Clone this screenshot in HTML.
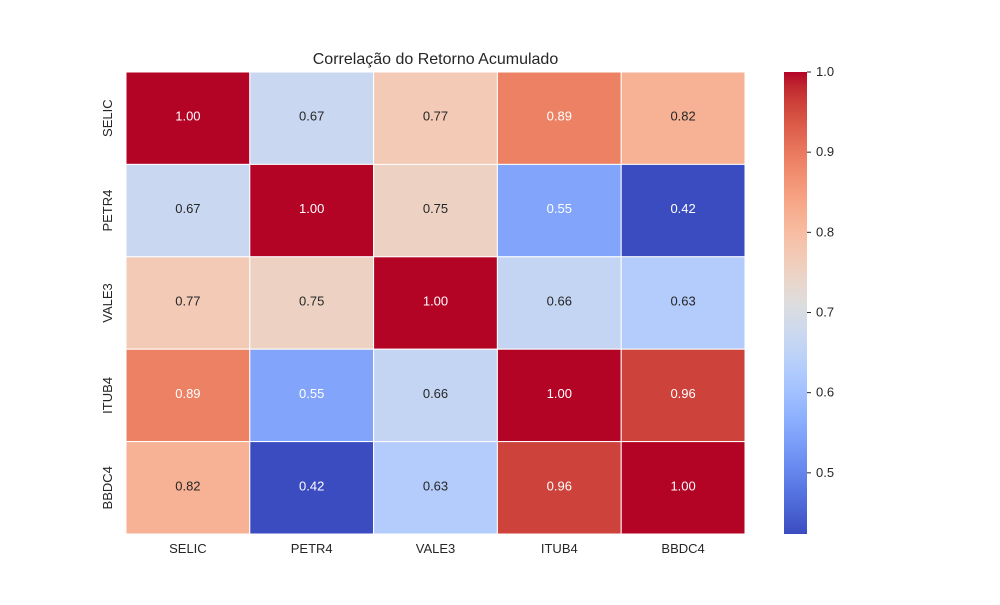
<!DOCTYPE html>
<html><head><meta charset="utf-8"><style>
body{margin:0;background:#fff;}
svg text{font-family:"Liberation Sans",Arial,sans-serif;}
</style></head><body>
<svg id="chart" width="1000" height="600" xmlns="http://www.w3.org/2000/svg">
<defs><linearGradient id="cbgrad" x1="0" y1="1" x2="0" y2="0"></linearGradient></defs>
<rect width="1000" height="600" fill="#fff"/>
<text x="435.5" y="64" font-size="16" text-anchor="middle" fill="#262626">Correlação do Retorno Acumulado</text>
<g id="cells"></g><g id="xt"></g><g id="yt"></g>
<rect x="784" y="72" width="23" height="462" fill="url(#cbgrad)"/>
<g id="cbt"></g>
</svg>
<script>
const labels = ["SELIC","PETR4","VALE3","ITUB4","BBDC4"];
const row0 = [1.00,0.67,0.77,0.89,0.82];
const row1 = [0.67,1.00,0.75,0.55,0.42];
const row2 = [0.77,0.75,1.00,0.66,0.63];
const row3 = [0.89,0.55,0.66,1.00,0.96];
const row4 = [0.82,0.42,0.63,0.96,1.00];
const cbTicks = [0.5,0.6,0.7,0.8,0.9,1.0];
const vmin = 0.4237, vmax = 1.0;
const matrix=[row0,row1,row2,row3,row4];
const CW=[[59,76,192],[68,90,204],[77,104,215],[87,117,225],[98,130,234],[108,142,241],[119,154,247],[130,165,251],[141,176,254],[152,185,255],[163,194,255],[174,201,253],[184,208,249],[194,213,244],[204,217,238],[213,219,230],[221,221,221],[229,216,209],[236,211,197],[241,204,185],[245,196,173],[247,187,160],[247,177,148],[247,166,135],[244,154,123],[241,141,111],[236,127,99],[229,112,88],[222,96,77],[213,80,66],[203,62,56],[192,40,47],[180,4,38]];
function cmap(t){t=Math.max(0,Math.min(1,t));const p=t*32,i=Math.min(31,Math.floor(p)),f=p-i;return CW[i].map((c,k)=>Math.round(c+(CW[i+1][k]-c)*f));}
const X0=126,X1=745,Y0=72,Y1=534;
const n=labels.length,cw=(X1-X0)/n,ch=(Y1-Y0)/n;
const xs=i=>X0+i*cw, ys=j=>Y0+j*ch;
const cbY=v=>Y1-(v-vmin)/(vmax-vmin)*(Y1-Y0);
const NS="http://www.w3.org/2000/svg";
function mk(tag,at,par,txt){const e=document.createElementNS(NS,tag);for(const k in at)e.setAttribute(k,at[k]);if(txt!==undefined)e.textContent=txt;document.getElementById(par).appendChild(e);return e;}
function lum(c){const l=c.map(v=>{v/=255;return v<=0.03928?v/12.92:Math.pow((v+0.055)/1.055,2.4)});return 0.2126*l[0]+0.7152*l[1]+0.0722*l[2];}
matrix.forEach((row,j)=>row.forEach((v,i)=>{
 const c=cmap((v-vmin)/(vmax-vmin));
 const r=mk('rect',{x:xs(i),y:ys(j),width:cw,height:ch,fill:`rgb(${c})`,stroke:'#fff','stroke-width':1},'cells');
 
 
 const t=mk('text',{x:xs(i)+cw/2,y:ys(j)+ch/2+2.5,'font-size':13,'text-anchor':'middle',fill:lum(c)>0.408?'#262626':'#fff'},'cells',v.toFixed(2));
 
 
}));
labels.forEach((l,i)=>{
 const t=mk('text',{x:xs(i)+cw/2,y:553,'font-size':13,'text-anchor':'middle',fill:'#262626'},'xt',l);
 
 
 const cy=ys(i)+ch/2;
 const u=mk('text',{x:0,y:0,'font-size':13,'text-anchor':'middle',fill:'#262626',transform:`translate(112,${cy}) rotate(-90)`},'yt',l);
 
 
});
const g=document.getElementById('cbgrad');
for(let k=0;k<=32;k++){const s=document.createElementNS(NS,'stop');s.setAttribute('offset',k/32);s.setAttribute('stop-color',`rgb(${CW[k]})`);g.appendChild(s);}
cbTicks.forEach(v=>{
 const y=cbY(v);
 const l=mk('line',{x1:807,x2:811,y1:y,y2:y,stroke:'#262626','stroke-width':1},'cbt');
 
 
 const t=mk('text',{x:816,y:y+4,'font-size':13,fill:'#262626'},'cbt',v.toFixed(1));
 
 
});
</script>
</body></html>
